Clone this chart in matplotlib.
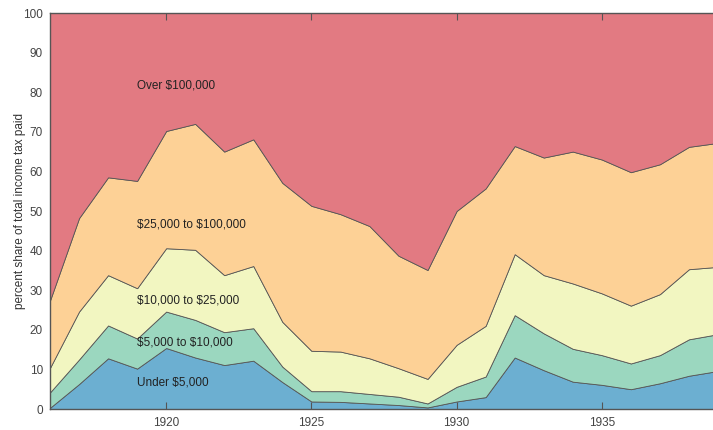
import matplotlib
matplotlib.use("Agg")
import numpy as np
import matplotlib.pyplot as plt

plt.rcParams['font.family'] = ['Liberation Sans', 'DejaVu Sans']
plt.rcParams['text.parse_math'] = False

years = np.arange(1916, 1940)

# share of total income tax paid, by income bracket (percent)
under_5k = [0.3, 6.3, 12.8, 10.2, 15.4, 13.0, 11.1, 12.2, 6.8, 1.9, 1.8, 1.4,
            1.0, 0.4, 1.9, 3.0, 13.0, 9.8, 6.9, 6.1, 5.0, 6.5, 8.4, 9.6]
from_5k_10k = [3.9, 6.2, 8.3, 7.6, 9.2, 9.5, 8.3, 8.2, 3.9, 2.6, 2.7, 2.4,
               2.1, 1.0, 3.7, 5.2, 10.7, 9.3, 8.3, 7.5, 6.5, 7.1, 9.2, 9.3]
from_10k_25k = [6.2, 12.1, 12.7, 12.7, 16.0, 17.7, 14.4, 15.7, 11.3, 10.2, 10.0, 9.0,
                7.2, 6.2, 10.6, 12.8, 15.4, 14.7, 16.5, 15.6, 14.6, 15.4, 17.7, 17.0]
from_25k_100k = [17.0, 23.6, 24.7, 27.1, 29.6, 31.8, 31.2, 32.0, 35.1, 36.6, 34.7, 33.4,
                 28.4, 27.5, 33.8, 34.7, 27.3, 29.7, 33.3, 33.8, 33.7, 32.8, 30.9, 31.3]
over_100k = [72.6, 51.8, 41.5, 42.4, 29.8, 28.0, 35.0, 31.9, 42.9, 48.7, 50.8, 53.8,
             61.3, 64.9, 50.0, 44.3, 33.6, 36.5, 35.0, 37.0, 40.2, 38.2, 33.8, 32.8]

labels = ['Under $5,000', '$5,000 to $10,000', '$10,000 to $25,000',
          '$25,000 to $100,000', 'Over $100,000']
label_y = [6.6, 16.7, 27.3, 46.7, 81.8]
colors = ['#6cafd1', '#9bd7bf', '#f2f6c1', '#fdd196', '#e27a82']

fig = plt.figure(figsize=(7.13, 4.30), dpi=100)
ax = fig.add_axes([50/713, 21/430, 668/713, 396/430])

polys = ax.stackplot(years, under_5k, from_5k_10k, from_10k_25k, from_25k_100k, over_100k,
                     colors=colors, edgecolor='#555555', linewidth=0.6)

for lab, ly in zip(labels, label_y):
  ax.text(1919, ly, lab, fontsize=8.5, color='#222222', va='center', ha='left')

ax.set_xlim(1916, 1939)
ax.set_ylim(0, 100)
ax.set_xticks([1920, 1925, 1930, 1935])
ax.set_yticks(np.arange(0, 101, 10))
ax.tick_params(axis='x', direction='in', top=True, length=5, width=0.8,
               color='#555555', labelcolor='#444444', labelsize=8.5, pad=6)
ax.tick_params(axis='y', length=0, labelcolor='#444444', labelsize=8.5, pad=5)
ax.set_ylabel('percent share of total income tax paid', fontsize=8.5, color='#333333')
ax.yaxis.set_label_coords(-24/668, 0.5)

for side in ['left', 'bottom', 'top']:
  ax.spines[side].set_color('#555555')
  ax.spines[side].set_linewidth(1.0)
ax.spines['right'].set_visible(False)
ax.set_axisbelow(False)

fig.savefig('out.png', dpi=100)
